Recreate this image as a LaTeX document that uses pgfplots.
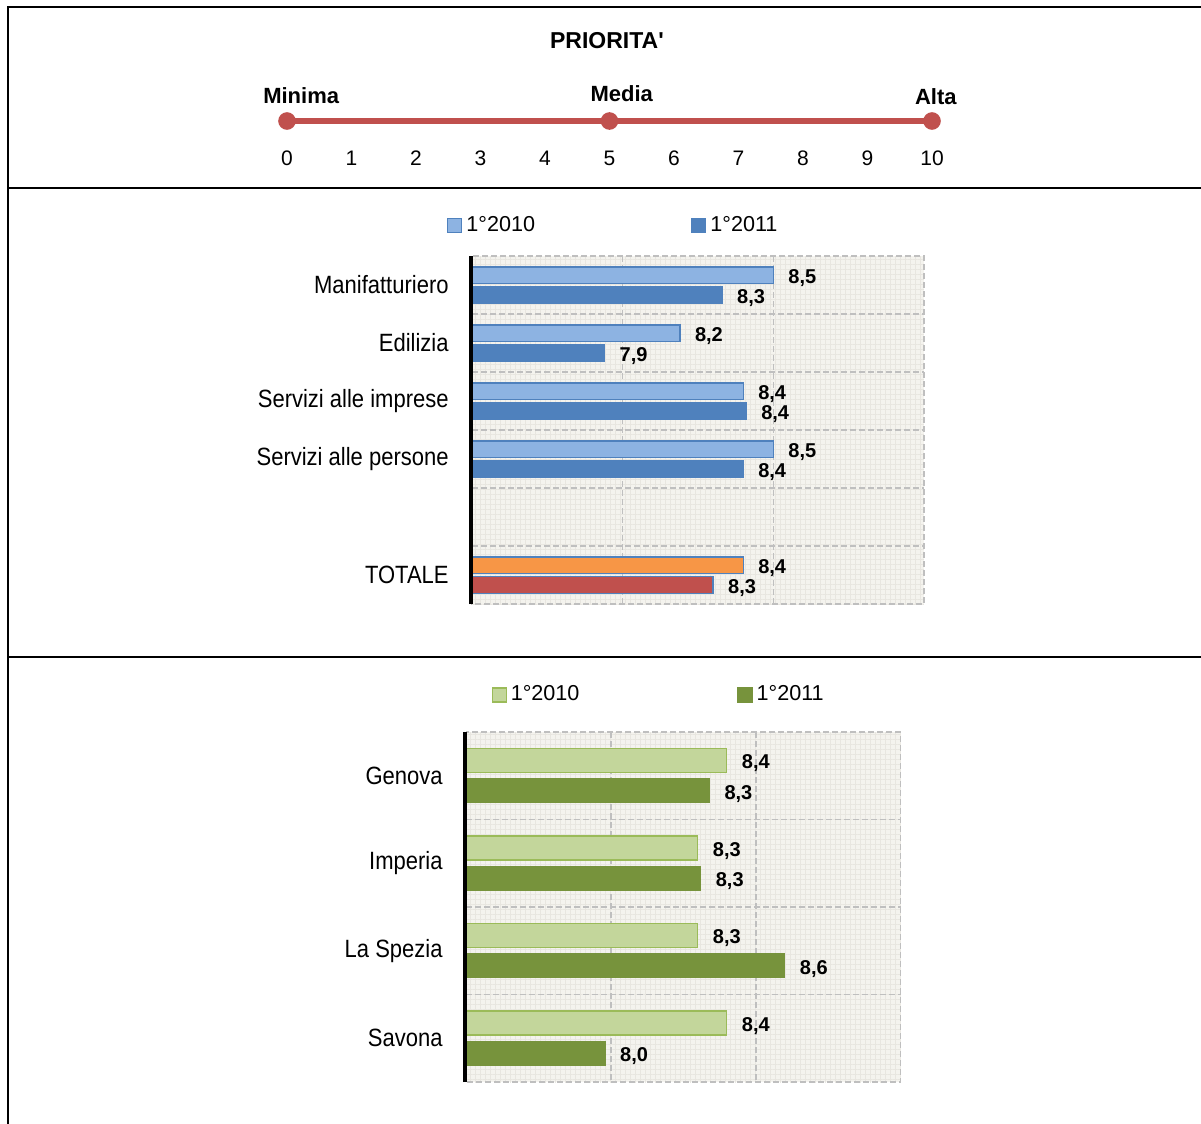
\documentclass[border=0pt]{standalone}
\usepackage{fontspec}
\setmainfont{Liberation Sans}
\newfontfamily\catfont[FakeStretch=0.88]{Liberation Sans}
\usepackage{pgfplots}
\pgfplotsset{compat=1.18}
\usetikzlibrary{patterns.meta}
\definecolor{scalered}{HTML}{C0504D}
\definecolor{blueA}{HTML}{8DB3E2}
\definecolor{blueB}{HTML}{4F81BD}
\definecolor{orangeT}{HTML}{F79646}
\definecolor{redT}{HTML}{C0504D}
\definecolor{greenA}{HTML}{C3D69B}
\definecolor{greenB}{HTML}{9BBB59}
\definecolor{greenC}{HTML}{77933C}
\definecolor{bgbeige}{HTML}{F4F3EE}
\definecolor{minorgrid}{HTML}{E8E6E0}
\definecolor{gridgray}{HTML}{BFBFBF}
\pgfplotsset{
  /pgf/number format/assume math mode=true,
  barchart/.style={
    xbar, scale only axis, xmin=7.5, xmax=9, y dir=reverse,
    clip mode=individual,
    xtick={8,8.5}, xticklabels={}, xmajorgrids, yminorgrids,
    major tick length=0pt, minor tick length=0pt,
    major grid style={draw=gridgray, dash pattern=on 3pt off 1.5pt, line width=0.7pt},
    minor grid style={draw=gridgray, dash pattern=on 3pt off 1.5pt, line width=0.7pt},
    axis line style={draw=gridgray, dash pattern=on 3pt off 1.5pt, line width=0.7pt},
    axis background/.style={fill=bgbeige, postaction={pattern={Hatch[angle=0,distance=2.5pt,line width=0.3pt]}, pattern color=minorgrid}},
    yticklabel style={font=\catfont\fontsize{12.5}{14}\selectfont, anchor=east, inner sep=0pt, xshift=-11.5pt},
    point meta=x,
    nodes near coords={\pgfmathprintnumber[fixed,fixed zerofill,precision=1,use comma]{\pgfplotspointmeta}},
    every node near coord/.append style={anchor=west, inner sep=0pt, xshift=7.25pt, yshift=-1.5pt, font=\bfseries\fontsize{10}{12}\selectfont, text=black},
    legend columns=2,
    legend style={draw=none, fill=none, font=\fontsize{10.8}{13}\selectfont, anchor=center},
  }
}
\begin{document}
\begin{tikzpicture}
\useasboundingbox (0pt,0pt) rectangle (600.5pt,-562pt);

% ---------- priority scale ----------
\begin{axis}[at={(143.5pt,-60.5pt)}, anchor=south west, width=322.5pt, height=20pt,
  scale only axis, xmin=0, xmax=10, ymin=0, ymax=1,
  axis x line=bottom, axis y line=none, axis line style={draw=none},
  xtick={0,1,...,10}, major tick length=0pt,
  xticklabel style={font=\fontsize{10.5}{12}\selectfont, anchor=center, yshift=-18.5pt},
  clip=false]
\addplot[color=scalered, line width=2.75pt, mark=*, mark size=3pt,
  mark options={draw=none, fill=scalered}] coordinates {(0,0) (5,0) (10,0)};
\node[font=\bfseries\fontsize{11}{13}\selectfont, yshift=12.5pt] at (axis cs:0.22,0) {Minima};
\node[font=\bfseries\fontsize{11}{13}\selectfont, yshift=13.5pt] at (axis cs:5.19,0) {Media};
\node[font=\bfseries\fontsize{11}{13}\selectfont, yshift=12pt] at (axis cs:10.06,0) {Alta};
\node[font=\bfseries\fontsize{11.5}{13}\selectfont, yshift=40pt] at (axis cs:4.96,0) {PRIORITA\textquotesingle};
\end{axis}

% ---------- sectors ----------
\begin{axis}[barchart, at={(236pt,-128pt)}, anchor=north west, width=226pt, height=174pt,
  ymin=-0.5, ymax=5.5, ytick={0,1,2,3,5},
  yticklabels={Manifatturiero,Edilizia,Servizi alle imprese,Servizi alle persone,TOTALE},
  minor ytick={0.5,1.5,2.5,3.5,4.5}, bar width=0.29,
  legend style={at={(0.315,1.088)}, /tikz/every even column/.append style={column sep=76pt}}]
\addplot[fill=blueA, draw=blueB, line width=0.6pt, bar shift=-0.165,
  legend image code/.code={\draw[fill=blueA,draw=blueB,line width=0.6pt] (0pt,-3.5pt) rectangle (7pt,3.5pt);}]
  coordinates {(8.50,0) (8.19,1) (8.40,2) (8.50,3)};
\addplot[fill=blueB, draw=blueB, line width=0.6pt, bar shift=0.175,
  legend image code/.code={\draw[fill=blueB,draw=blueB,line width=0.6pt] (0pt,-3.5pt) rectangle (7pt,3.5pt);}]
  coordinates {(8.33,0) (7.94,1) (8.41,2) (8.40,3)};
\addplot[fill=orangeT, draw=blueB, line width=0.6pt, bar shift=-0.165, forget plot]
  coordinates {(8.40,5)};
\addplot[fill=redT, draw=blueB, line width=0.6pt, bar shift=0.175, forget plot]
  coordinates {(8.30,5)};
\legend{1°2010, 1°2011}
\draw[black, line width=1.75pt] ([xshift=-0.6pt]rel axis cs:0,0) -- ([xshift=-0.6pt]rel axis cs:0,1);
\end{axis}

% ---------- provinces ----------
\begin{axis}[barchart, at={(233pt,-366pt)}, anchor=north west, width=217.35pt, height=175pt,
  ymin=-0.5, ymax=3.5, ytick={0,1,2,3},
  yticklabels={Genova,Imperia,La Spezia,Savona},
  minor ytick={0.5,1.5,2.5}, bar width=0.275,
  legend style={at={(0.4455,1.106)}, /tikz/every even column/.append style={column sep=77pt}}]
\addplot[fill=greenA, draw=greenB, line width=0.6pt, bar shift=-0.175,
  legend image code/.code={\draw[fill=greenA,draw=greenB,line width=0.6pt] (0pt,-3.5pt) rectangle (7pt,3.5pt);}]
  coordinates {(8.40,0) (8.30,1) (8.30,2) (8.40,3)};
\addplot[fill=greenC, draw=greenC, line width=0.6pt, bar shift=0.171,
  legend image code/.code={\draw[fill=greenC,draw=greenC,line width=0.6pt] (0pt,-3.5pt) rectangle (7pt,3.5pt);}]
  coordinates {(8.34,0) (8.31,1) (8.60,2) (7.98,3)};
\legend{1°2010, 1°2011}
\draw[black, line width=1.75pt] ([xshift=-0.6pt]rel axis cs:0,0) -- ([xshift=-0.6pt]rel axis cs:0,1);
\end{axis}

% ---------- frame ----------
\draw[line width=0.9pt] (3.9pt,-562pt) -- (3.9pt,-3.35pt) -- (600.5pt,-3.35pt);
\draw[line width=0.9pt] (3.9pt,-94.1pt) -- (600.5pt,-94.1pt);
\draw[line width=0.9pt] (3.9pt,-328.6pt) -- (600.5pt,-328.6pt);
\end{tikzpicture}
\end{document}
